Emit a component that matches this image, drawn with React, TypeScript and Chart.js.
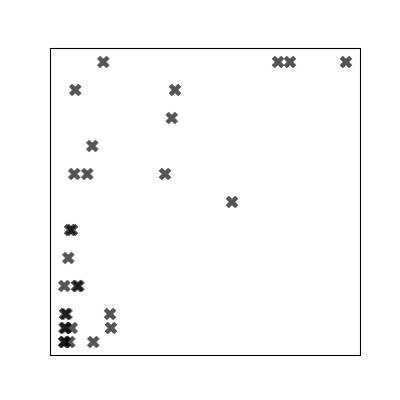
import React, { useEffect, useRef } from "react";
import { Chart, registerables } from "chart.js";

Chart.register(...registerables);

// x positions (data units) and y rank levels
const xValues: number[] = [
  52.3, 227, 239, 295,
  24.3, 124,
  120.7,
  41.3,
  23.3, 36.3, 114,
  181,
  19, 21,
  17.3,
  13.3, 26, 27.5,
  14, 15.5, 59,
  13.5, 14.5, 20.7, 60,
  13, 14, 18.3, 42.3,
];
const yValues: number[] = [
  21, 21, 21, 21,
  19, 19,
  17,
  15,
  13, 13, 13,
  11,
  9, 9,
  7,
  5, 5, 5,
  3, 3, 3,
  2, 2, 2, 2,
  1, 1, 1, 1,
];
const xRange: number[] = [0, 309];
const yRange: number[] = [0, 22];

function makeMarker(): HTMLCanvasElement {
  const c = document.createElement("canvas");
  const size = 16;
  c.width = size;
  c.height = size;
  const ctx = c.getContext("2d")!;
  const S = 13.4;
  const base = [
    [-1, -3], [-1, -1], [-3, -1], [-3, 1], [-1, 1], [-1, 3],
    [1, 3], [1, 1], [3, 1], [3, -1], [1, -1], [1, -3],
  ];
  const a = Math.PI / 4;
  ctx.fillStyle = "rgba(0,0,0,0.67)";
  ctx.beginPath();
  base.forEach(([px, py], i) => {
    const x = (px / 6) * S;
    const y = (py / 6) * S;
    const rx = x * Math.cos(a) - y * Math.sin(a) + size / 2;
    const ry = x * Math.sin(a) + y * Math.cos(a) + size / 2;
    if (i === 0) ctx.moveTo(rx, ry);
    else ctx.lineTo(rx, ry);
  });
  ctx.closePath();
  ctx.fill();
  return c;
}

const frame = {
  id: "frame",
  afterDraw(chart: any) {
    const { ctx } = chart;
    ctx.save();
    ctx.strokeStyle = "#000";
    ctx.lineWidth = 1.1;
    ctx.strokeRect(50.5, 48.5, 310, 307);
    ctx.restore();
  },
};

export default function App() {
  const ref = useRef<HTMLCanvasElement>(null);
  useEffect(() => {
    const marker = makeMarker();
    const data = xValues.map((x, i) => ({ x, y: yValues[i] }));
    const chart = new Chart(ref.current!, {
      type: "scatter",
      data: {
        datasets: [
          {
            data,
            pointStyle: marker as any,
            pointRadius: 6,
            pointHoverRadius: 6,
            backgroundColor: "rgba(0,0,0,0.67)",
            borderColor: "rgba(0,0,0,0.67)",
          },
        ],
      },
      options: {
        responsive: false,
        animation: false,
        events: [],
        layout: { padding: { left: 51, top: 48, right: 40, bottom: 44 } },
        plugins: { legend: { display: false }, tooltip: { enabled: false } },
        scales: {
          x: { type: "linear", min: xRange[0], max: xRange[1], display: false },
          y: { type: "linear", min: yRange[0], max: yRange[1], display: false },
        },
        clip: false as any,
      },
      plugins: [frame],
    });
    return () => chart.destroy();
  }, []);
  return (
    <div style={{ position: "absolute", left: 0, top: 0, width: 400, height: 400, background: "#fff" }}>
      <canvas ref={ref} width={400} height={400} style={{ width: 400, height: 400 }} />
    </div>
  );
}
